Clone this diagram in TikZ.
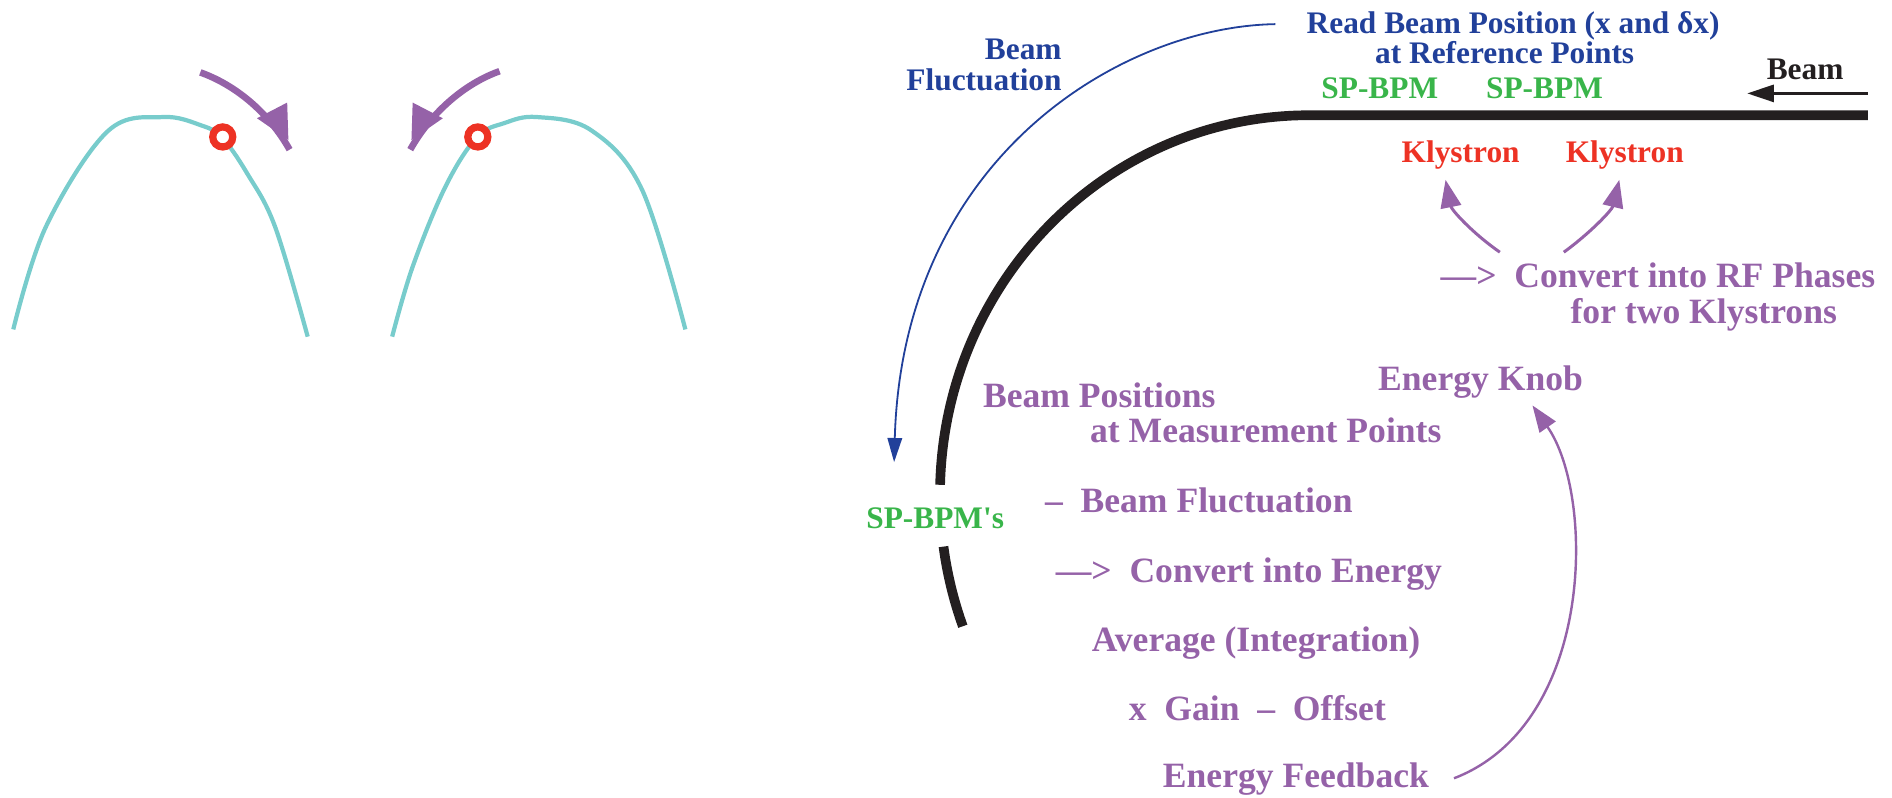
\documentclass[tikz,border=0pt]{standalone}
\usepackage{fontspec}
\setmainfont{Liberation Serif}
\usetikzlibrary{arrows.meta}

\definecolor{fbpurple}{HTML}{9562A8}
\definecolor{fbblue}{HTML}{21409A}
\definecolor{fbgreen}{HTML}{39B54A}
\definecolor{fbred}{HTML}{ED3224}
\definecolor{fbcyan}{HTML}{78CCCC}
\definecolor{fbblack}{HTML}{231F20}

\tikzset{
  steplabel/.style={text=fbpurple, inner sep=0pt, anchor=base, font=\bfseries\fontsize{29.5}{28}\selectfont},
  bpmlabel/.style={text=fbgreen, inner sep=0pt, anchor=base, font=\bfseries\fontsize{26}{28}\selectfont},
  klylabel/.style={text=fbred, inner sep=0pt, anchor=base, font=\bfseries\fontsize{26}{28}\selectfont},
  readlabel/.style={text=fbblue, inner sep=0pt, anchor=base, font=\bfseries\fontsize{26}{25}\selectfont},
  beamlabel/.style={text=fbblack, inner sep=0pt, anchor=base, font=\bfseries\fontsize{26}{28}\selectfont},
  orbit/.style={draw=fbcyan, line width=3.5pt},
  probe/.style={circle, draw=fbred, line width=6pt, fill=white, minimum size=16.6pt, inner sep=0pt},
  kick/.style={draw=fbpurple, line width=5.5pt},
  kickhead/.style={fill=fbpurple},
  feed/.style={draw=fbpurple, line width=2.5pt, -{Triangle[length=23pt,width=17pt]}},
  beamline/.style={draw=fbblack, line width=8pt},
}

\begin{document}
\begin{tikzpicture}[x=1pt, y=-1pt]
    \useasboundingbox (0,0) rectangle (1568,661);

    % left: two orbit bumps
    \draw[orbit] plot[smooth, tension=0.6] coordinates {(11,273) (38,188) (89,109) (135,97) (167,104) (184,114) (205,144) (228,188) (255,279)};
    \draw[orbit] plot[smooth, tension=0.6] coordinates {(325,279) (342,221) (369,155) (395,114) (418,102) (445,97) (490,108) (532,157) (568,273)};
    \node[probe] (ringL) at (184.6,113.5) {};
    \node[probe] (ringR) at (396,113.5) {};
    \coordinate (kickLa) at (166,60);
    \coordinate (kickLb) at (240,124);
    \coordinate (kickRa) at (414,59);
    \coordinate (kickRb) at (340,124);
    \draw[kick] (kickLa) .. controls (194,70) and (222,92) .. (kickLb);
    \fill[kickhead] (213,98) -- (238,85) -- (239,116) -- cycle;
    \draw[kick] (kickRa) .. controls (386,69) and (358,92) .. (kickRb);
    \fill[kickhead] (367,98) -- (342,85) -- (341,116) -- cycle;

    % right: beam line
    \draw[beamline] (1548,95.5) -- (1085,95.5) arc[start angle=270, end angle=181.5, x radius=306, y radius=314.5];
    \draw[beamline] (781.9,453) arc[start angle=172.15, end angle=159.75, x radius=306, y radius=315];
    \node[beamlabel] (beam) at (1496,66) {Beam};
    \coordinate (beamA) at (1548,77.4);
    \coordinate (beamB) at (1448,77.4);
    \draw[draw=fbblack, line width=2.5pt, -{Triangle[length=22pt,width=14pt]}] (beamA) -- (beamB);

    \node[readlabel] (read) at (1254,27.5) {Read Beam Position (x and δx)};
    \node[readlabel] (refpts) at (1247,52.5) {at Reference Points};
    \node[readlabel, anchor=base east] (flucA) at (880,49) {Beam};
    \node[readlabel, anchor=base east] (flucB) at (880,74.6) {Fluctuation};
    \coordinate (flucS) at (1057,20);
    \coordinate (flucE) at (741,383);
    \draw[draw=fbblue, line width=1.5pt, -{Triangle[length=20pt,width=12pt]}] (flucS) .. controls (930,22) and (748,130) .. (flucE);

    \node[bpmlabel] (bpm1) at (1143.5,81.5) {SP-BPM};
    \node[bpmlabel] (bpm2) at (1280,81.5) {SP-BPM};
    \node[bpmlabel] (bpms) at (775,438) {SP-BPM\textquotesingle s};

    \node[klylabel] (kly1) at (1210.5,135) {Klystron};
    \node[klylabel] (kly2) at (1346.5,135) {Klystron};
    \node[steplabel] (rfconv) at (1374,238) {—>~~Convert into RF Phases};
    \node[steplabel] (rftwo) at (1412,268) {for two Klystrons};
    \coordinate (rfA) at (1243,209);
    \coordinate (rfB) at (1296,209);
    \coordinate (klyA) at (1198,149);
    \coordinate (klyB) at (1342,149);
    \draw[feed] (rfA) .. controls (1220,193) and (1203,174) .. (klyA);
    \draw[feed] (rfB) .. controls (1318,193) and (1336,174) .. (klyB);

    \node[steplabel] (knob) at (1227,324) {Energy Knob};
    \node[steplabel] (bpos) at (911,338) {Beam Positions};
    \node[steplabel] (mpts) at (1049,367) {at Measurement Points};
    \node[steplabel] (sub) at (993.5,425) {–~~Beam Fluctuation};
    \node[steplabel] (conv) at (1035,483) {—>~~Convert into Energy};
    \node[steplabel] (avg) at (1041,540) {Average (Integration)};
    \node[steplabel] (gain) at (1042,597) {x~~Gain~~–~~Offset};
    \node[steplabel] (fb) at (1074,653) {Energy Feedback};
    \coordinate (fbS) at (1205,645);
    \coordinate (fbE) at (1270,336);
    \draw[feed, line width=2pt, -{Triangle[length=22pt,width=16pt]}] (fbS) .. controls (1322,600) and (1322,410) .. (fbE);
\end{tikzpicture}
\end{document}
